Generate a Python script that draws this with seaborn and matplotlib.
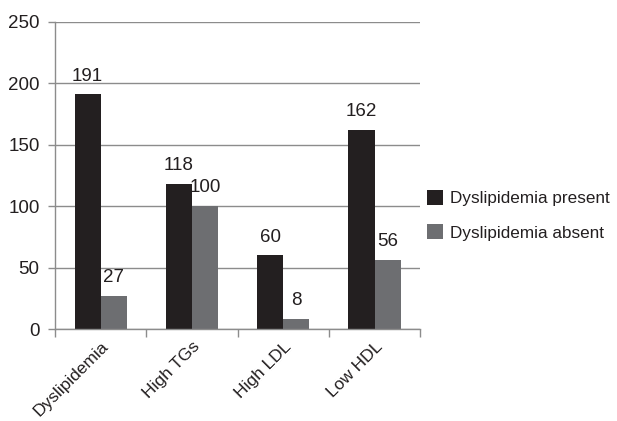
import matplotlib
matplotlib.use("Agg")
import matplotlib.pyplot as plt
import seaborn as sns
import pandas as pd
from matplotlib.ticker import FixedLocator

categories = ["Dyslipidemia", "High TGs", "High LDL", "Low HDL"]
present = [191, 118, 60, 162]
absent = [27, 100, 8, 56]
series_names = ["Dyslipidemia present", "Dyslipidemia absent"]
colors = ["#231f20", "#6d6e71"]

df = pd.DataFrame({
    "category": categories * 2,
    "value": present + absent,
    "series": [series_names[0]] * 4 + [series_names[1]] * 4,
})

sns.set_style("white")
plt.rcParams["font.family"] = ["Liberation Sans", "DejaVu Sans"]

fig = plt.figure(figsize=(6.17, 4.21), dpi=100)
ax = fig.add_axes([0.089, 0.2185, 0.592, 0.7295])

sns.barplot(data=df, x="category", y="value", hue="series", palette=colors,
            width=0.57, gap=0, ax=ax, saturation=1, edgecolor="none")

for cont in ax.containers:
    ax.bar_label(cont, padding=7, fontsize=13.5, color="#231f20")

ax.set_ylim(0, 250)
ax.set_xlim(-0.5, 3.5)
ax.set_yticks([0, 50, 100, 150, 200, 250])
ax.yaxis.grid(True, color="#8c8c8c", linewidth=1)
ax.set_axisbelow(True)
ax.set_xlabel("")
ax.set_ylabel("")
for s in ["top", "right"]:
    ax.spines[s].set_visible(False)
for s in ["left", "bottom"]:
    ax.spines[s].set_color("#8c8c8c")
    ax.spines[s].set_linewidth(1)

ax.tick_params(axis="y", length=5, width=1, color="#8c8c8c", labelsize=13.5,
               labelcolor="#231f20", pad=6, left=True, direction="out")
ax.set_xticks(range(len(categories)))
ax.set_xticklabels(categories, rotation=45, ha="right", rotation_mode="anchor",
                   fontsize=12.5, color="#231f20")
ax.tick_params(axis="x", which="major", length=0, pad=7)
ax.xaxis.set_minor_locator(FixedLocator([-0.5, 0.5, 1.5, 2.5, 3.5]))
ax.tick_params(axis="x", which="minor", length=6, width=1, color="#8c8c8c",
               bottom=True, direction="out")

leg = ax.legend(loc="center left", bbox_to_anchor=(1.018, 0.37), frameon=False,
                fontsize=12.3, handlelength=0.95, handleheight=0.95,
                handletextpad=0.4, labelspacing=1.05, labelcolor="#231f20",
                borderaxespad=0, borderpad=0)

fig.savefig("out.png", dpi=100)
